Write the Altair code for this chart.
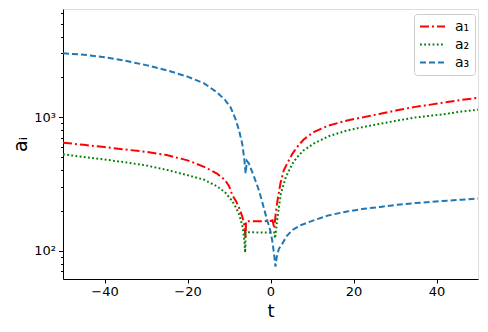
import altair as alt
import pandas as pd

series_names = ["a₁", "a₂", "a₃"]
series_colors = ["#ff0000", "#008000", "#1f77b4"]
series_dashes = [[9, 3, 2, 3], [1.8, 2.4], [6, 3]]

t_a1 = [-50, -45, -40, -35, -30, -25, -20, -16, -13, -11, -10, -9.2, -8.3, -7.5, -6.8, -6.3, -6.0, -5.9,
        -3, 0, 0.5, 0.9, 1.3, 1.7, 2.4, 3.2, 4.1, 5.3, 6.4, 8.0, 10.4, 14, 18.5, 22.5, 26.5, 30.5,
        34.5, 38.6, 42.6, 46, 50]
a1 = [644, 620, 597, 572, 550, 520, 475, 425, 380, 340, 305, 261, 235, 207, 180, 155, 124, 166,
      166, 167, 169, 147, 195, 239, 320, 400, 455, 533, 597, 680, 773, 865, 944, 1000, 1060, 1125,
      1188, 1240, 1295, 1345, 1395]

t_a2 = [-50, -45, -40, -35, -30, -25, -20, -16, -13, -11, -9.2, -8.3, -7.5, -6.7, -6.3, -6.1, -6.0,
        -3, 0, 0.9, 1.1, 1.7, 2.5, 3.7, 5.3, 6.4, 8.0, 10.4, 14, 18.5, 22.5, 26.5, 30.5, 34.5,
        38.6, 42.6, 46, 50]
a2 = [527, 503, 482, 459, 435, 403, 368, 340, 305, 275, 235, 210, 185, 150, 120, 97, 138,
      137, 137, 137, 124, 179, 268, 357, 449, 501, 565, 633, 720, 795, 845, 892, 942, 990,
      1025, 1060, 1100, 1135]

t_a3 = [-50, -45, -40, -35, -30, -25, -20, -16, -13, -11, -9.6, -8.5, -7.6, -6.8, -6.3, -6.0, -5.7,
        -5.2, -4.0, -2.8, -1.8, -0.8, 0.0, 0.4, 0.8, 1.2, 1.5, 2.0, 2.9, 4.0, 5.3, 7.2, 10.4, 14,
        18.5, 22.5, 26.5, 30.5, 34.5, 38.6, 42.6, 46, 50]
a3 = [3000, 2930, 2810, 2640, 2450, 2240, 2010, 1790, 1540, 1350, 1180, 980, 800, 630, 480, 378, 470,
      449, 360, 284, 220, 169, 140, 120, 98, 76, 90, 103, 114, 130, 143, 155, 169, 184,
      197, 206, 213, 221, 227, 232, 237, 241, 246]

x_ticks = [-40, -20, 0, 20, 40]
y_ticks = [70, 80, 90, 100, 200, 300, 400, 500, 600, 700, 800, 900,
           1000, 2000, 3000, 4000, 5000, 6000]

rows = []
for name, ts, vs in zip(series_names, [t_a1, t_a2, t_a3], [a1, a2, a3]):
    for i, (t, v) in enumerate(zip(ts, vs)):
        rows.append({"t": t, "value": v, "series": name, "idx": i})
df = pd.DataFrame(rows)

FONT = "DejaVu Sans"

legend = alt.Legend(
    title=None, orient="none", legendX=351, legendY=5,
    symbolType="stroke", symbolSize=625, symbolStrokeWidth=2,
    labelFont=FONT, labelFontSize=14, labelColor="black", labelOffset=9,
    padding=5, strokeColor="#cccccc", fillColor="white", cornerRadius=3,
    rowPadding=3, clipHeight=15,
)

chart = alt.Chart(df).mark_line(strokeWidth=2, clip=True).encode(
    x=alt.X("t:Q",
            scale=alt.Scale(domain=[-50, 50], nice=False, zero=False),
            axis=alt.Axis(title="t", values=x_ticks, grid=False, tickSize=4,
                          tickColor="black", domainColor="black",
                          labelFont=FONT, labelFontSize=13, labelColor="black",
                          labelPadding=2, titleFont=FONT, titleFontSize=18,
                          titleFontWeight="normal", titleColor="black", titlePadding=4)),
    y=alt.Y("value:Q",
            scale=alt.Scale(type="log", domain=[61.5, 6440], nice=False),
            axis=alt.Axis(title="aᵢ", values=y_ticks, grid=False,
                          labelExpr="datum.value == 100 ? '10²' : (datum.value == 1000 ? '10³' : '')",
                          tickSize={"condition": {"test": "datum.value == 100 || datum.value == 1000",
                                                  "value": 4.5}, "value": 2.5},
                          tickColor="black", domainColor="black",
                          labelFont=FONT, labelFontSize=13, labelColor="black",
                          labelPadding=3, titleFont=FONT, titleFontSize=19,
                          titleFontWeight="normal", titleColor="black", titlePadding=3)),
    color=alt.Color("series:N",
                    scale=alt.Scale(domain=series_names, range=series_colors),
                    legend=legend),
    strokeDash=alt.StrokeDash("series:N",
                              scale=alt.Scale(domain=series_names, range=series_dashes),
                              legend=legend),
    order=alt.Order("idx:Q"),
).properties(
    width=415, height=270,
    autosize=alt.AutoSizeParams(type="none"),
    padding={"left": 55, "top": 1, "right": 2, "bottom": 45},
).configure_view(
    stroke="black", strokeWidth=1,
).configure(background="white")

chart.save("out.html", embed_options={"renderer": "svg", "actions": False})
